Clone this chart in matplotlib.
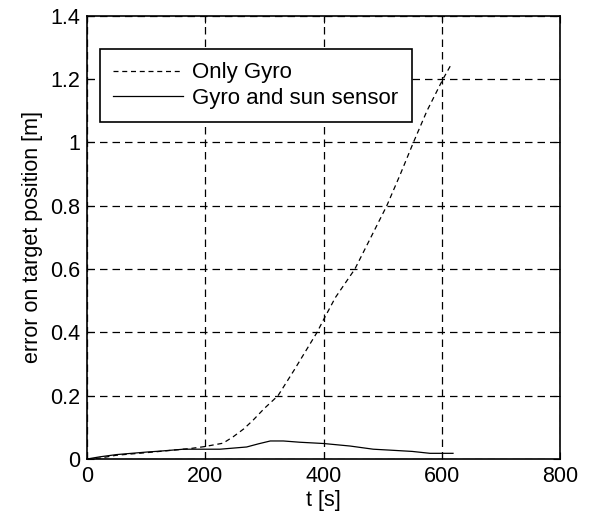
import matplotlib.pyplot as plt

# error on target position over time
t_gyro = [0, 22, 50, 100, 140, 174, 198, 230, 247, 265, 281, 300, 323, 350,
          389, 400, 420, 453, 480, 507, 530, 552, 575, 602, 617]
err_gyro = [0.0, 0.003, 0.012, 0.02, 0.027, 0.033, 0.039, 0.05, 0.07, 0.095,
            0.123, 0.16, 0.2, 0.28, 0.4, 0.44, 0.51, 0.6, 0.7, 0.8, 0.9,
            1.0, 1.1, 1.2, 1.25]

t_sun = [0, 22, 50, 101, 124, 163, 225, 270, 290, 310, 332, 360, 400, 445,
         484, 513, 550, 580, 619]
err_sun = [0.0, 0.007, 0.014, 0.022, 0.025, 0.031, 0.031, 0.038, 0.048, 0.057,
           0.057, 0.053, 0.049, 0.041, 0.031, 0.028, 0.024, 0.018, 0.018]

xticks = [0, 200, 400, 600, 800]
yticks = [0, 0.2, 0.4, 0.6, 0.8, 1, 1.2, 1.4]
yticklabels = ['0', '0.2', '0.4', '0.6', '0.8', '1', '1.2', '1.4']

plt.rcParams['font.family'] = ['Liberation Sans', 'DejaVu Sans']
fs = 15.5

fig = plt.figure(figsize=(5.92, 5.27), dpi=100)
ax = fig.add_axes([0.147, 0.129, 0.799, 0.841])

ax.plot(t_gyro, err_gyro, color='black', linestyle=(0, (4, 3)), linewidth=0.9,
        label='Only Gyro')
ax.plot(t_sun, err_sun, color='black', linestyle='-', linewidth=0.9,
        label='Gyro and sun sensor')

ax.set_xlim(0, 800)
ax.set_ylim(0, 1.4)
ax.set_xticks(xticks)
ax.set_yticks(yticks)
ax.set_yticklabels(yticklabels)
ax.tick_params(direction='in', top=True, right=True, labelsize=fs, length=5,
               pad=5)

ax.grid(True, color='black', linestyle=(0, (6, 4)), linewidth=0.9)
for s in ax.spines.values():
    s.set_linewidth(1.2)

ax.set_xlabel('t [s]', fontsize=fs, labelpad=2)
ax.set_ylabel('error on target position [m]', fontsize=fs, labelpad=5)

leg = ax.legend(loc='upper left', bbox_to_anchor=(0.0275, 0.925), fontsize=16,
                frameon=True, fancybox=False, framealpha=1, edgecolor='black',
                handlelength=3.15, handletextpad=0.4, borderaxespad=0,
                borderpad=0.6, labelspacing=0.2)
leg.get_frame().set_linewidth(1.2)

fig.savefig('out.png', dpi=100)
